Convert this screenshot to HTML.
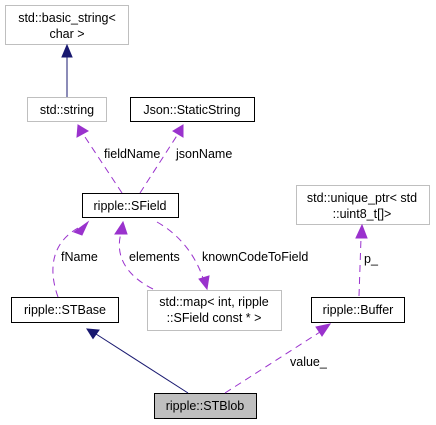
<!DOCTYPE html>
<html><head><meta charset="utf-8"><style>
html,body{margin:0;padding:0;background:#fff;}
svg{display:block;}
text{font-family:"Liberation Sans",Arial,sans-serif;font-size:12.5px;fill:#000;}
</style></head><body>
<svg width="436" height="425" viewBox="0 0 436 425" xmlns="http://www.w3.org/2000/svg">
<g fill="#fff" stroke-width="1">
<rect x="5.5" y="5.5" width="123" height="39" stroke="#bfbfbf"/>
<rect x="27.5" y="97.5" width="79" height="24" stroke="#bfbfbf"/>
<rect x="130.5" y="97.5" width="124" height="24" stroke="#000"/>
<rect x="82.5" y="193.5" width="96" height="24" stroke="#000"/>
<rect x="296.5" y="185.5" width="133" height="39" stroke="#bfbfbf"/>
<rect x="11.5" y="297.5" width="107" height="25" stroke="#000"/>
<rect x="147.5" y="290.5" width="134" height="40" stroke="#bfbfbf"/>
<rect x="311.5" y="297.5" width="93" height="25" stroke="#000"/>
<rect x="154.5" y="393.5" width="102" height="25" stroke="#000" fill="#bfbfbf"/>
</g>
<g text-anchor="middle">
<text x="67" y="22">std::basic_string&lt;</text>
<text x="67" y="38">char &gt;</text>
<text x="67" y="114">std::string</text>
<text x="192" y="114">Json::StaticString</text>
<text x="130" y="210">ripple::SField</text>
<text x="362" y="202">std::unique_ptr&lt; std</text>
<text x="362" y="218">::uint8_t[]&gt;</text>
<text x="65" y="314">ripple::STBase</text>
<text x="214" y="306">std::map&lt; int, ripple</text>
<text x="214" y="322">::SField const * &gt;</text>
<text x="358" y="314">ripple::Buffer</text>
<text x="205" y="410">ripple::STBlob</text>
</g>
<g>
<text x="104" y="158">fieldName</text>
<text x="176" y="158">jsonName</text>
<text x="61" y="261">fName</text>
<text x="129" y="261">elements</text>
<text x="202" y="261">knownCodeToField</text>
<text x="364" y="263">p_</text>
<text x="290" y="366">value_</text>
</g>
<line x1="67" y1="97" x2="67" y2="57" stroke="#191970"/>
<path d="M62,57 L67,45 L72,57 z" fill="#191970" stroke="#191970"/>
<line x1="188" y1="393" x2="96" y2="334" stroke="#191970"/>
<path d="M93,338.5 L87,329 L99,330 z" fill="#191970" stroke="#191970"/>
<g fill="none" stroke="#9a32cd" stroke-dasharray="7,5">
<path d="M122,193 L83,134"/>
<path d="M140,193 L178,134"/>
<path d="M58,297 C50,275 48,245 78,228"/>
<path d="M153,289 C125,275 115,255 121,233"/>
<path d="M157,222 C180,235 195,255 203,278"/>
<path d="M359,296 L361,238"/>
<path d="M225,393 L320,332"/>
</g>
<g fill="#9a32cd" stroke="#9a32cd">
<path d="M77,137 L78,125 L88,131 z"/>
<path d="M173,131 L183,125 L183,137 z"/>
<path d="M74,232 L88,222 L82,235 z"/>
<path d="M115,234 L123,222 L127,234 z"/>
<path d="M199,279 L207,289 L209,276 z"/>
<path d="M356,238 L362,225 L367,238 z"/>
<path d="M316,327 L330,324 L322,336 z"/>
</g>
</svg>
</body></html>
